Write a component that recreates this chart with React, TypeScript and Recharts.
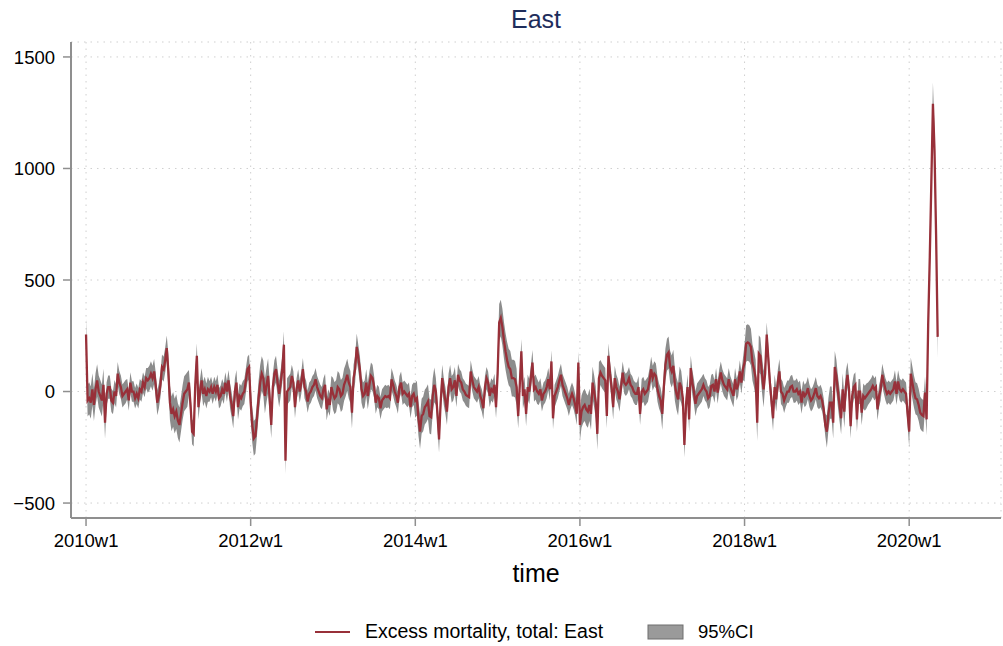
import React from 'react';
import { ComposedChart, Line, Area, XAxis, YAxis, CartesianGrid } from 'recharts';

const FONT = '"Liberation Sans", Arial, Helvetica, sans-serif';

// Weekly excess mortality (Stata weeks: 52 per year)
const y2010 = [256, -40, -30, -50, 10, -60, 10, 50, 0, -20,
  -40, 30, -140, -10, 20, 20, -40, -50, 0, -20,
  80, 40, 20, -20, -10, 0, 10, -40, 40, 0,
  0, -30, -10, -30, 10, 0, 40, 20, 60, 50,
  60, 80, 60, 90, 30, -50, -20, 30, 110, 100,
  140, 195];
const y2011 = [90, -50, -100, -80, -110, -90, -130, -150, -100, -50,
  -10, 0, 10, 40, -60, -180, -190, 30, 160, -70,
  0, 50, -10, 10, -20, 10, 0, 20, -10, 20,
  0, 30, -30, -20, 10, -10, 40, 0, 50, -20,
  -60, -110, 0, 40, -70, -20, -30, -10, 0, 50,
  100, 110];
const y2012 = [-50, -150, -210, -200, -120, -30, 40, 80, 60, -20,
  30, 70, -30, -150, 20, 80, 100, 40, -10, 40,
  100, 210, -310, 0, 10, 20, 70, 40, -70, 10,
  50, 0, 40, 100, 20, 0, -45, -10, 0, 20,
  30, 55, 20, 0, -20, -30, 10, 30, -80, -40,
  -60, 20];
const y2013 = [-10, -30, -20, 20, 10, -20, -10, 30, 50, 75,
  40, 20, -95, 60, 100, 200, 150, 100, 10, -20,
  -10, 40, -20, 30, 70, 60, 20, -50, -20, -30,
  -75, -40, -30, -20, -25, -20, -30, 55, 30, 0,
  -20, -50, 20, 40, -10, 0, -10, -20, -10, -70,
  -20, -10];
const y2014 = [-40, -30, -120, -180, -110, -100, -70, -60, -45, -110,
  -115, -20, 30, 0, -100, -215, -50, 60, 0, -40,
  -90, 20, 60, 10, 20, 50, -20, 75, 50, 40,
  10, 0, -15, -20, -25, 90, 50, 20, 10, 0,
  20, -20, -40, -75, 20, 60, 40, -20, 10, 0,
  30, -70];
const y2015 = [80, 310, 330, 290, 230, 180, 140, 110, 100, 60,
  60, 55, 20, -110, 30, 180, -20, 10, -100, 20,
  0, 60, 130, 10, 20, 0, -10, 10, -40, -10,
  0, 20, 55, 10, 135, -120, -20, 0, 20, 50,
  75, 30, 10, -10, -30, -60, -30, -10, -30, -60,
  -100, 130];
const y2016 = [-150, -90, -70, -60, -80, -90, -60, -100, 40, 0,
  -50, -190, 60, 85, 70, 60, 50, -110, 160, 80,
  20, -70, 60, 20, 0, -35, 20, 85, 40, 30,
  40, 60, 30, 20, 0, -10, -10, 20, -100, 0,
  10, -10, 0, 10, 50, 100, 60, 80, 70, 10,
  -20, -40];
const y2017 = [-100, 20, 120, 165, 175, 110, 90, 115, 30, -10,
  -35, 40, 20, -30, -240, -60, 20, -125, 105, 40,
  0, -55, -20, -10, 0, 10, 30, 10, 0, -30,
  -20, 25, 30, 0, 55, -5, 50, 85, 50, 30,
  20, 10, 55, 20, 0, -20, 55, 10, 30, 90,
  40, 100];
const y2018 = [130, 215, 220, 215, 200, 130, 100, 60, -140, 170,
  160, 80, 10, 80, 255, 150, 40, -40, -120, 20,
  -35, 40, 90, 0, -10, -40, -20, 0, 0, 20,
  25, 0, 0, 10, -10, 0, -50, 0, -20, -10,
  15, -20, -40, -30, -10, 15, -20, -30, -20, -40,
  -80, -150];
const y2019 = [-180, -100, -50, -50, -140, 110, 70, 0, -60, -120,
  10, -90, 20, 75, 10, -155, -20, 20, 30, -125,
  0, 0, -95, -20, -30, -20, -10, 0, 10, 25,
  10, 20, -80, -20, 10, 75, 40, 10, -10, 0,
  -10, 0, 10, 45, -10, 45, 10, 0, 10, 0,
  -10, -100];
const y2020 = [-180, 80, 40, 0, -30, -35, -60, -95, -105, -110,
  -5, -125, 300, 600, 940, 1290, 1080, 700, 245];

// 95% CI half-width per 13-week block (quarter)
const ciHalfWidth = [72, 52, 46, 56, 78, 56, 46, 56, 78, 60, 50, 50,
  72, 60, 50, 50, 78, 60, 50, 50, 82, 56, 50, 50, 72, 56, 50, 56,
  72, 56, 50, 50, 82, 56, 50, 50, 72, 56, 50, 50, 72, 95];

const xTickWeeks = [0, 104, 208, 312, 416, 520];
const xTickLabels = ['2010w1', '2012w1', '2014w1', '2016w1', '2018w1', '2020w1'];
const yTicks = [-500, 0, 500, 1000, 1500];

const series = [...y2010, ...y2011, ...y2012, ...y2013, ...y2014, ...y2015,
  ...y2016, ...y2017, ...y2018, ...y2019, ...y2020];
const data = series.map((v, i) => {
  const h = ciHalfWidth[Math.floor(i / 13)];
  return { week: i, excess: v, ci: [v - h, v + h] };
});

const AXIS = '#8f8f8f';
const RED = '#983039';
const GREY = '#8c8c8c';

export default function App() {
  return (
    <div style={{ position: 'absolute', left: 0, top: 0, width: 1003, height: 646, background: '#fff' }}>
      <ComposedChart width={1003} height={646} data={data} margin={{ top: 42, right: 2, bottom: 68, left: 0 }}>
        <CartesianGrid stroke="#cfcfcf" strokeDasharray="1.5 5" />
        <XAxis dataKey="week" type="number" domain={[-9.5, 578]} allowDataOverflow ticks={xTickWeeks}
          interval={0} height={60} tickSize={8} tickMargin={8}
          tickFormatter={(v: number) => xTickLabels[xTickWeeks.indexOf(v)]}
          axisLine={{ stroke: AXIS, strokeWidth: 2 }} tickLine={{ stroke: AXIS, strokeWidth: 1.5 }}
          tick={{ fill: '#000', fontSize: 18.5, fontFamily: FONT }} />
        <YAxis type="number" domain={[-567, 1567]} allowDataOverflow ticks={yTicks} interval={0}
          width={71} tickSize={8} tickMargin={8}
          tickFormatter={(v: number) => (v < 0 ? '\u2212' + Math.abs(v) : String(v))}
          axisLine={{ stroke: AXIS, strokeWidth: 2 }} tickLine={{ stroke: AXIS, strokeWidth: 1.5 }}
          tick={{ fill: '#000', fontSize: 18.5, fontFamily: FONT }} />
        <Area dataKey="ci" type="linear" fill={GREY} fillOpacity={1} stroke="none" isAnimationActive={false} />
        <Line dataKey="excess" type="linear" stroke={RED} strokeWidth={2.3} dot={false} isAnimationActive={false} />
      </ComposedChart>
      <svg width={1003} height={646} style={{ position: 'absolute', left: 0, top: 0, pointerEvents: 'none' }}>
        <text x={536} y={28} textAnchor="middle" fontFamily={FONT} fontSize={25} fill="#1e2d5b">East</text>
        <text x={536} y={582} textAnchor="middle" fontFamily={FONT} fontSize={25} fill="#000">time</text>
        <line x1={315} y1={632} x2={350} y2={632} stroke={RED} strokeWidth={2} />
        <text x={365} y={638} fontFamily={FONT} fontSize={19.5} fill="#000">Excess mortality, total: East</text>
        <rect x={648} y={625} width={35} height={14} fill="#9a9a9a" stroke="#6e6e6e" strokeWidth={1} />
        <text x={698} y={638} fontFamily={FONT} fontSize={18.5} fill="#000">95%CI</text>
      </svg>
    </div>
  );
}
